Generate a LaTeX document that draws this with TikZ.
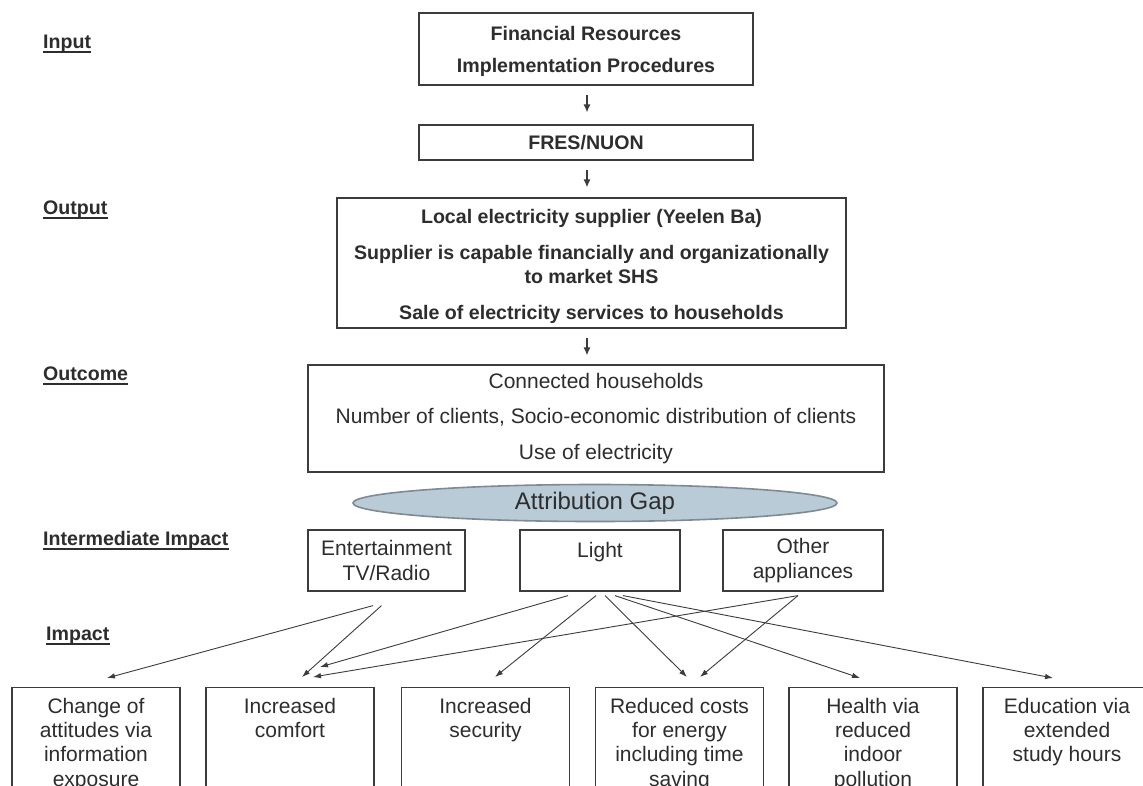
\documentclass[tikz,border=0pt]{standalone}
\usepackage{fontspec}
\setmainfont{Liberation Sans}
\usetikzlibrary{arrows.meta,calc,shapes.geometric}
\definecolor{ink}{RGB}{45,45,45}
\definecolor{edge}{RGB}{60,60,60}
\definecolor{gapfill}{RGB}{185,203,215}
\definecolor{gapedge}{RGB}{128,138,148}
\newcommand{\bfnt}{\bfseries\fontsize{19.6}{24}\selectfont}
\newcommand{\rfnt}{\fontsize{21}{24.2}\selectfont}
\begin{document}
\begin{tikzpicture}[x=1pt,y=-1pt,
  box/.style={draw=edge,line width=1.2pt,rectangle,inner sep=0pt},
  bbox/.style={box,minimum width=168pt,minimum height=130pt,anchor=north},
  txt/.style={text=ink,inner sep=0pt,align=center},
  lab/.style={text=ink,inner sep=0pt,anchor=base west,font=\bfseries\fontsize{19.6}{24}\selectfont},
  ul/.style={draw=ink,line width=2pt},
  arr/.style={draw=edge,line width=0.9pt,-{Latex[length=8pt,width=5.5pt]}},
  varr/.style={draw=edge,line width=1.3pt,-{Latex[length=8pt,width=7pt]}}
]
\useasboundingbox (0,0) rectangle (1143,785);
\clip (0,0) rectangle (1143,785);
\fill[white] (0,0) rectangle (1143,785);

% level labels
\node[lab] (lIn) at (43,48) {Input};
\node[lab] (lOut) at (43,214) {Output};
\node[lab] (lOc) at (43,380) {Outcome};
\node[lab] (lInt) at (43,545) {Intermediate Impact};
\node[lab] (lImp) at (46,640) {Impact};
\foreach \n in {lIn,lOut,lOc,lInt,lImp}
  \draw[ul] ($(\n.base west)+(0,3.5)$) -- ($(\n.base east)+(0,3.5)$);

% top chain
\node[box,minimum width=334pt,minimum height=72pt] (top) at (586,49) {};
\node[txt,anchor=north,font=\bfnt] (topT) at ($(top.north)+(0,14)$)
  {Financial Resources\\[8pt]Implementation Procedures};
\node[box,minimum width=334pt,minimum height=35pt,font=\bfnt,text=ink] (fres) at (586,142.5) {FRES/NUON};
\node[box,minimum width=509pt,minimum height=130pt] (out) at (591.5,263) {};
\node[txt,anchor=north,font=\bfnt] (outT) at ($(out.north)+(0,12)$)
  {Local electricity supplier (Yeelen Ba)\\[12pt]Supplier is capable financially and organizationally\\to market SHS\\[12pt]Sale of electricity services to households};
\node[box,minimum width=576pt,minimum height=107pt,font=\rfnt,text=ink,align=center] (outc) at (596,418.5)
  {Connected households\\[11.5pt]Number of clients, Socio-economic distribution of clients\\[11.5pt]Use of electricity};

\draw[varr] ($(top.south)+(1,9)$) -- ($(fres.north)+(1,-12)$);
\draw[varr] ($(fres.south)+(1,9)$) -- ($(fres.south |- out.north)+(1,-10)$);
\draw[varr] ($(out.south -| fres.south)+(1,9)$) -- ($(fres.south |- outc.north)+(1,-9)$);

% attribution gap
\node[ellipse,draw=gapedge,fill=gapfill,line width=1.6pt,minimum width=484pt,minimum height=37pt,inner sep=0pt,
  font=\fontsize{24}{28}\selectfont,text=ink] (gap) at (595,503) {Attribution Gap};

% intermediate impacts
\node[box,minimum width=157pt,minimum height=61pt,font=\rfnt,text=ink,align=center] (ent) at (386.5,560.5) {Entertainment\\TV/Radio};
\node[box,minimum width=160pt,minimum height=61pt] (light) at (600,560.5) {};
\node[txt,anchor=north,font=\rfnt] (lightT) at ($(light.north)+(0,13)$) {Light};
\node[box,minimum width=160pt,minimum height=61pt,font=\rfnt,text=ink,align=center] (other) at (803,560.5) {Other\\appliances};

% impacts
\node[bbox] (b1) at (96,687) {};
\node[txt,anchor=north,font=\rfnt] (b1T) at ($(b1.north)+(0,11)$) {Change of\\attitudes via\\information\\exposure};
\node[bbox] (b2) at (290,687) {};
\node[txt,anchor=north,font=\rfnt] (b2T) at ($(b2.north)+(0,11)$) {Increased\\comfort};
\node[bbox] (b3) at (485.5,687) {};
\node[txt,anchor=north,font=\rfnt] (b3T) at ($(b3.north)+(0,11)$) {Increased\\security};
\node[bbox] (b4) at (679.5,687) {};
\node[txt,anchor=north,font=\rfnt] (b4T) at ($(b4.north)+(0,11)$) {Reduced costs\\for energy\\including time\\saving};
\node[bbox] (b5) at (873,687) {};
\node[txt,anchor=north,font=\rfnt] (b5T) at ($(b5.north)+(0,11)$) {Health via\\reduced\\indoor\\pollution};
\node[bbox] (b6) at (1067,687) {};
\node[txt,anchor=north,font=\rfnt] (b6T) at ($(b6.north)+(0,11)$) {Education via\\extended\\study hours};

% connectors
\draw[arr] ($(ent.south)+(-13.5,14)$) -- ($(b1.north)+(11,-9)$);
\draw[arr] ($(ent.south)+(-5,14)$) -- ($(b2.north)+(12,-10)$);
\draw[arr] ($(light.south)+(-32,4)$) -- ($(b2.north)+(30,-20)$);
\draw[arr] ($(light.south)+(-4,4)$) -- ($(b3.north)+(9.5,-10)$);
\draw[arr] ($(light.south)+(5,4)$) -- ($(b4.north)+(7.5,-10)$);
\draw[arr] ($(light.south)+(15,4)$) -- ($(b5.north)+(-13,-9)$);
\draw[arr] ($(light.south)+(23,4)$) -- ($(b6.north)+(-14,-9)$);
\draw[arr] ($(other.south)+(-5,4)$) -- ($(b2.north)+(23,-10)$);
\draw[arr] ($(other.south)+(-5,4)$) -- ($(b4.north)+(20.5,-10)$);
\end{tikzpicture}
\end{document}
